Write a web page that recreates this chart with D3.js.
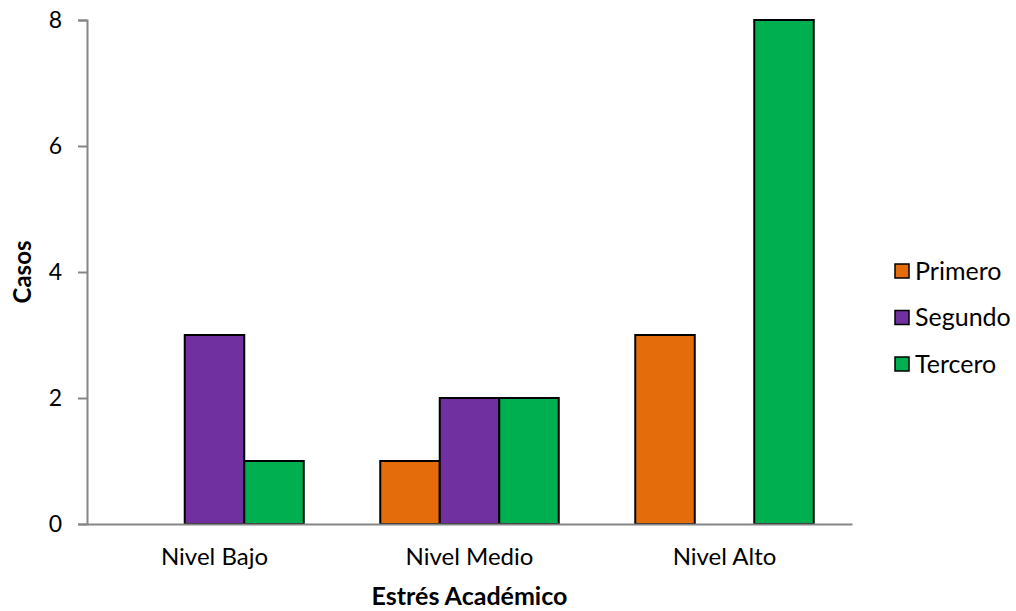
<!DOCTYPE html>
<html>
<head>
<meta charset="utf-8">
<script src="https://cdn.jsdelivr.net/npm/d3@7"></script>
<style>
  body { margin: 0; background: #fff; }
  text { font-family: Lato, "Open Sans", sans-serif; fill: #000; }
</style>
</head>
<body>
<svg id="chart" width="1016" height="611"></svg>
<script>
// Data
const categories = ["Nivel Bajo", "Nivel Medio", "Nivel Alto"];
const seriesNames = ["Primero", "Segundo", "Tercero"];
const primero = [0, 1, 3];
const segundo = [3, 2, 0];
const tercero = [1, 2, 8];
const yTicks = [0, 2, 4, 6, 8];
const colors = ["#E46C0A", "#7030A0", "#00B050"];

const seriesValues = [primero, segundo, tercero];

const svg = d3.select("#chart");
const plot = { left: 87, right: 852, top: 20, bottom: 524 };

const x0 = d3.scaleBand()
  .domain(categories)
  .range([plot.left, plot.right])
  .paddingInner(0.3)
  .paddingOuter(0.15);

const x1 = d3.scaleBand()
  .domain(seriesNames)
  .range([0, x0.bandwidth()]);

const y = d3.scaleLinear()
  .domain([0, 8])
  .range([plot.bottom, plot.top]);

const color = d3.scaleOrdinal().domain(seriesNames).range(colors);

// Bars
const groups = svg.append("g").selectAll("g")
  .data(categories)
  .join("g")
  .attr("transform", d => `translate(${x0(d)},0)`);

groups.selectAll("rect")
  .data((c, i) => seriesNames.map((s, j) => ({ s, v: seriesValues[j][i] })).filter(d => d.v > 0))
  .join("rect")
  .attr("x", d => x1(d.s))
  .attr("y", d => y(d.v))
  .attr("width", x1.bandwidth())
  .attr("height", d => y(0) - y(d.v))
  .attr("fill", d => color(d.s))
  .attr("stroke", "#000")
  .attr("stroke-width", 2);

// Y axis
const yAxis = svg.append("g")
  .attr("transform", `translate(${plot.left},0)`)
  .call(d3.axisLeft(y).tickValues(yTicks).tickSize(9).tickPadding(16));
yAxis.select(".domain").attr("stroke", "#868686").attr("stroke-width", 2);
yAxis.selectAll(".tick line").attr("stroke", "#868686").attr("stroke-width", 2);
yAxis.selectAll(".tick text").style("font-size", "23px").attr("font-family", null);

// X axis
const xAxis = svg.append("g")
  .attr("transform", `translate(0,${plot.bottom})`)
  .call(d3.axisBottom(x0).tickSize(0).tickPadding(24).tickSizeOuter(0));
xAxis.select(".domain").attr("stroke", "#868686").attr("stroke-width", 2);
xAxis.selectAll(".tick text").style("font-size", "24px").attr("font-family", null);

// Axis titles
svg.append("text")
  .attr("x", (plot.left + plot.right) / 2)
  .attr("y", 605)
  .attr("text-anchor", "middle")
  .style("font-size", "25px")
  .style("font-weight", "bold")
  .text("Estrés Académico");

svg.append("text")
  .attr("transform", `translate(31,${(plot.top + plot.bottom) / 2}) rotate(-90)`)
  .attr("text-anchor", "middle")
  .style("font-size", "24px")
  .style("font-weight", "bold")
  .text("Casos");

// Legend
const legend = svg.append("g").attr("transform", "translate(895,271)");
const item = legend.selectAll("g")
  .data(seriesNames)
  .join("g")
  .attr("transform", (d, i) => `translate(0,${i * 46.5})`);
item.append("rect")
  .attr("x", 0).attr("y", -7)
  .attr("width", 14).attr("height", 14)
  .attr("fill", d => color(d))
  .attr("stroke", "#000").attr("stroke-width", 1.5);
item.append("text")
  .attr("x", 20).attr("y", 0)
  .attr("dy", "0.35em")
  .style("font-size", "25px")
  .text(d => d);
</script>
</body>
</html>
